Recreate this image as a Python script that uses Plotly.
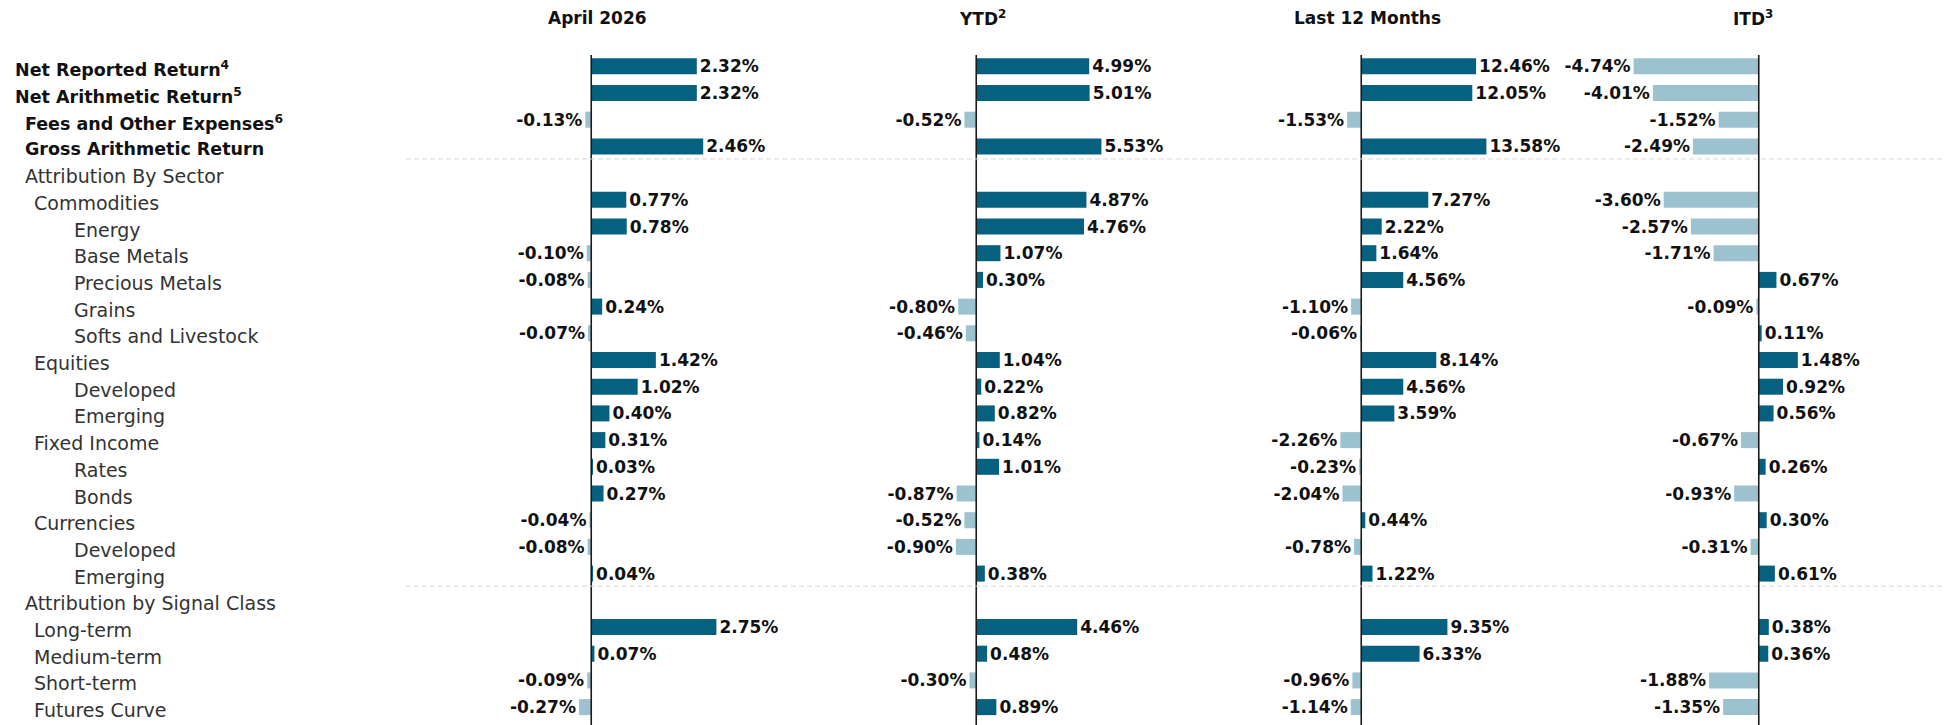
import plotly.graph_objects as go

# ---------------- data ----------------
row_labels = [
    "Net Reported Return<sup>4</sup>",
    "Net Arithmetic Return<sup>5</sup>",
    "Fees and Other Expenses<sup>6</sup>",
    "Gross Arithmetic Return",
    "Attribution By Sector",
    "Commodities",
    "Energy",
    "Base Metals",
    "Precious Metals",
    "Grains",
    "Softs and Livestock",
    "Equities",
    "Developed",
    "Emerging",
    "Fixed Income",
    "Rates",
    "Bonds",
    "Currencies",
    "Developed",
    "Emerging",
    "Attribution by Signal Class",
    "Long-term",
    "Medium-term",
    "Short-term",
    "Futures Curve",
]

panel_titles = ["April 2026", "YTD<sup>2</sup>", "Last 12 Months", "ITD<sup>3</sup>"]

april_2026 = [2.32, 2.32, -0.13, 2.46, None, 0.77, 0.78, -0.10, -0.08, 0.24, -0.07,
              1.42, 1.02, 0.40, 0.31, 0.03, 0.27, -0.04, -0.08, 0.04, None,
              2.75, 0.07, -0.09, -0.27]
ytd = [4.99, 5.01, -0.52, 5.53, None, 4.87, 4.76, 1.07, 0.30, -0.80, -0.46,
       1.04, 0.22, 0.82, 0.14, 1.01, -0.87, -0.52, -0.90, 0.38, None,
       4.46, 0.48, -0.30, 0.89]
last_12_months = [12.46, 12.05, -1.53, 13.58, None, 7.27, 2.22, 1.64, 4.56, -1.10, -0.06,
                  8.14, 4.56, 3.59, -2.26, -0.23, -2.04, 0.44, -0.78, 1.22, None,
                  9.35, 6.33, -0.96, -1.14]
itd = [-4.74, -4.01, -1.52, -2.49, None, -3.60, -2.57, -1.71, 0.67, -0.09, 0.11,
       1.48, 0.92, 0.56, -0.67, 0.26, -0.93, 0.30, -0.31, 0.61, None,
       0.38, 0.36, -1.88, -1.35]

# ---------------- styling ----------------
W, H = 1949, 725
POS_COLOR = "#05617f"
NEG_COLOR = "#9cc2cf"
FONT = "DejaVu Sans"
indent_level = [0, 0, 1, 1, 1, 2, 3, 3, 3, 3, 3, 2, 3, 3, 2, 3, 3, 2, 3, 3, 1, 2, 2, 2, 2]
bold_rows = 4
indent_px = {0: 13, 1: 23, 2: 32, 3: 72}
panel_px = [(406, 789), (791, 1174), (1176, 1559), (1561, 1944)]
row0_px, row_step = 66.3, 26.7
separators_after = [3, 19]

series = [april_2026, ytd, last_12_months, itd]
n = len(row_labels)

fig = go.Figure()
layout_axes = {}
for k, vals in enumerate(series):
    axname = "x" if k == 0 else f"x{k+1}"
    laxname = "xaxis" if k == 0 else f"xaxis{k+1}"
    idx = [i for i, v in enumerate(vals) if v is not None]
    xs = [vals[i] for i in idx]
    colors = [POS_COLOR if v >= 0 else NEG_COLOR for v in xs]
    texts = [f"{v:.2f}%" for v in xs]
    fig.add_trace(go.Bar(
        x=xs, y=idx, orientation="h", xaxis=axname, yaxis="y",
        marker=dict(color=colors, line=dict(width=0)),
        width=0.6, text=texts, textposition="outside", cliponaxis=False,
        constraintext="none",
        textfont=dict(family=FONT, size=17, color="#111111", weight="bold"),
        showlegend=False, hoverinfo="skip",
    ))
    m = max(abs(v) for v in xs)
    maxval = max(xs, key=abs)
    if maxval >= 0:
        rng = [-1.48 * m, 1.58 * m]
    else:
        rng = [-1.58 * m, 1.48 * m]
    x0, x1 = panel_px[k]
    layout_axes[laxname] = dict(
        domain=[x0 / W, x1 / W], range=rng, visible=False, fixedrange=True,
        anchor="y",
    )
    # zero line
    fig.add_shape(type="line", xref=axname, yref="y", x0=0, x1=0,
                  y0=-0.42, y1=n - 1 + 0.7, line=dict(color="#1a1a1a", width=1.6))
    # separators
    for s in separators_after:
        fig.add_shape(type="line", xref=f"{axname} domain", yref="y", x0=0, x1=1,
                      y0=s + 0.47, y1=s + 0.47,
                      line=dict(color="#d6d6d6", width=1, dash="5px,3px"))
    # panel title
    fig.add_annotation(text=f"<b>{panel_titles[k]}</b>", xref=f"{axname} domain",
                       yref="paper", x=0.5, y=1 - 18.5 / H, showarrow=False,
                       xanchor="center", yanchor="middle",
                       font=dict(family=FONT, size=17, color="#111111"))

# row labels
for i, lab in enumerate(row_labels):
    is_bold = i < bold_rows
    fig.add_annotation(
        text=f"<b>{lab}</b>" if is_bold else lab,
        xref="paper", yref="y", x=indent_px[indent_level[i]] / W, y=i,
        xanchor="left", yanchor="middle", showarrow=False, yshift=-3,
        font=dict(family=FONT, size=17.5 if is_bold else 19,
                  color="#111111" if is_bold else "#333333"),
    )

y_top = -row0_px / row_step
y_bot = (H - row0_px) / row_step
fig.update_layout(
    width=W, height=H,
    margin=dict(l=0, r=0, t=0, b=0),
    paper_bgcolor="white", plot_bgcolor="white",
    barmode="overlay",
    yaxis=dict(range=[y_bot, y_top], visible=False, fixedrange=True, domain=[0, 1]),
    font=dict(family=FONT),
    **layout_axes,
)

fig.write_html(
    "out.html",
    config={"displayModeBar": False},
    post_script="document.body.style.margin='0';document.body.style.overflow='hidden';",
)
